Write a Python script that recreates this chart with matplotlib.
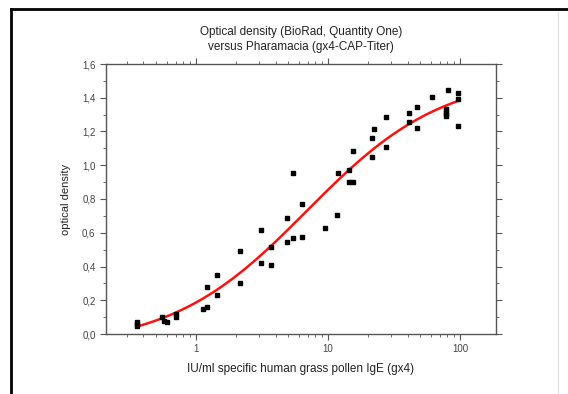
import numpy as np
import matplotlib
matplotlib.use('Agg')
import matplotlib.pyplot as plt
from matplotlib.lines import Line2D
from matplotlib.ticker import FuncFormatter, MultipleLocator, LogLocator, NullFormatter

# IU/ml (Pharmacia CAP) vs optical density (BioRad)
iu_ml = [0.36, 0.36, 0.36, 0.55, 0.57, 0.60, 0.71, 0.71,
         1.12, 1.22, 1.22, 1.43, 1.43, 2.15, 2.15, 3.09, 3.09,
         3.68, 3.68, 4.86, 4.86, 5.4, 5.4, 6.3, 6.3, 9.5,
         11.7, 11.8, 14.3, 14.5, 15.4, 15.4, 21.4, 21.4, 22.3,
         27.5, 27.5, 41.1, 41.1, 47, 47, 61.7, 78, 78, 78, 78,
         80.7, 96, 96, 96]
od = [0.07, 0.05, 0.06, 0.10, 0.08, 0.07, 0.12, 0.10,
      0.146, 0.158, 0.277, 0.233, 0.348, 0.49, 0.304, 0.616, 0.423,
      0.514, 0.407, 0.687, 0.547, 0.567, 0.952, 0.77, 0.577, 0.63,
      0.707, 0.952, 0.90, 0.972, 0.90, 1.084, 1.05, 1.16, 1.213,
      1.11, 1.284, 1.312, 1.256, 1.343, 1.22, 1.404, 1.316, 1.304, 1.292, 1.332,
      1.444, 1.426, 1.394, 1.233]

title = 'Optical density (BioRad, Quantity One)\nversus Pharamacia (gx4-CAP-Titer)'
xlabel = 'IU/ml specific human grass pollen IgE (gx4)'
ylabel = 'optical density'


def logistic(x, a1, a2, x0, p):
    return a2 + (a1 - a2) / (1 + (x / x0) ** p)


def fit_logistic(x, y):
    # grid over x0 and p, A1/A2 are linear -> least squares
    x = np.asarray(x, dtype=float)
    y = np.asarray(y, dtype=float)
    best = None
    for lx0 in np.linspace(0, 2, 201):
        x0 = 10 ** lx0
        for p in np.linspace(0.5, 2.5, 201):
            g = 1 / (1 + (x / x0) ** p)
            m = np.column_stack([g, 1 - g])
            coef, *_ = np.linalg.lstsq(m, y, rcond=None)
            err = np.sum((m @ coef - y) ** 2)
            if best is None or err < best[0]:
                best = (err, coef[0], coef[1], x0, p)
    return best[1:]


a1, a2, x0, p = fit_logistic(iu_ml, od)
xs = np.logspace(np.log10(min(iu_ml)), np.log10(max(iu_ml)), 200)

fig = plt.figure(figsize=(5.68, 3.94), dpi=100)
plt.rcParams['font.family'] = ['Liberation Sans', 'DejaVu Sans']
ax = fig.add_axes([106 / 568, 1 - 334 / 394, 390 / 568, 270 / 394])

ax.plot(xs, logistic(xs, a1, a2, x0, p), color='#ff1010', lw=1.8, zorder=2)
ax.plot(iu_ml, od, 's', color='black', ms=2.2, zorder=3)

ax.set_xscale('log')
ax.set_xlim(0.208, 187)
ax.set_ylim(0, 1.6)
ax.yaxis.set_major_locator(MultipleLocator(0.2))
ax.yaxis.set_minor_locator(MultipleLocator(0.1))
ax.yaxis.set_major_formatter(FuncFormatter(lambda v, pos: '{:.1f}'.format(v).replace('.', ',')))
ax.xaxis.set_major_locator(LogLocator(base=10))
ax.xaxis.set_minor_locator(LogLocator(base=10, subs=np.arange(2, 10)))
ax.xaxis.set_minor_formatter(NullFormatter())
ax.xaxis.set_major_formatter(FuncFormatter(lambda v, pos: '{:g}'.format(v)))

for s in ax.spines.values():
    s.set_color('#555555')
    s.set_linewidth(1.0)
ax.tick_params(which='both', direction='out', colors='#555555', labelcolor='#444444',
               labelsize=7, top=True, right=True)
ax.tick_params(which='major', length=4)
ax.tick_params(which='minor', length=2.5)

ax.set_title(title, fontsize=8.5, color='#222222', pad=10, linespacing=1.3)
ax.set_xlabel(xlabel, fontsize=8.5, color='#222222', labelpad=6)
ax.set_ylabel(ylabel, fontsize=8, color='#222222', labelpad=8)

# page frame around the chart
fig.add_artist(Line2D([11 / 568, 11 / 568], [0, 1 - 9 / 394], color='black', lw=2))
fig.add_artist(Line2D([11 / 568, 1], [1 - 9 / 394, 1 - 9 / 394], color='black', lw=2))
fig.add_artist(Line2D([558 / 568, 558 / 568], [0, 1 - 12 / 394], color='#e4e4e4', lw=1))

fig.savefig('out.png', dpi=100)
